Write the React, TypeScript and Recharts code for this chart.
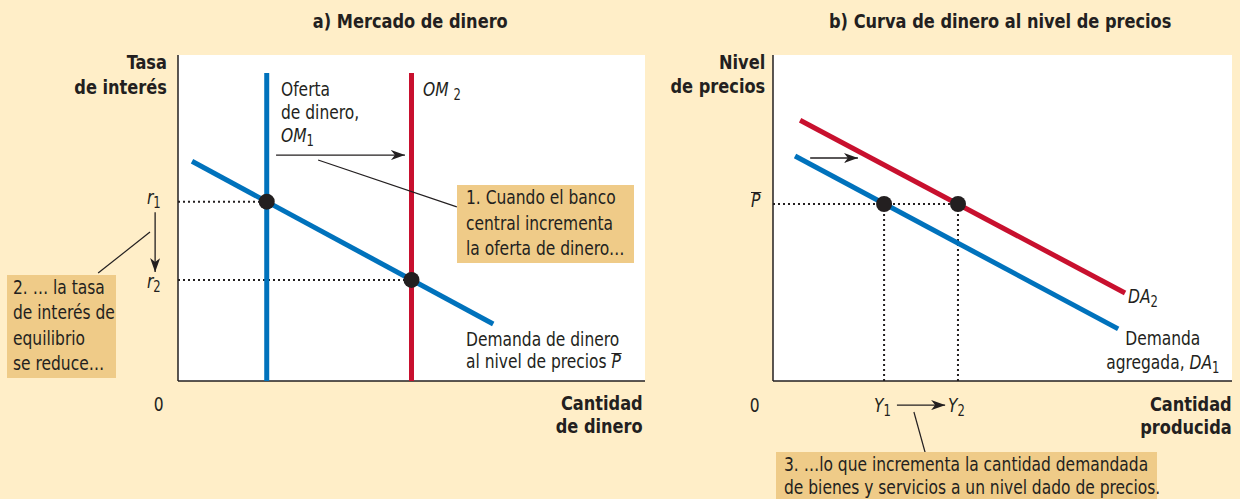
import React from "react";
import { LineChart, Line, XAxis, YAxis, CartesianGrid, ReferenceLine, ReferenceDot } from "recharts";

// panel a) money market: quantity of money (q) vs interest rate (r)
const moneyDemand = [
  { q: 0.3, r: 6.74 },
  { q: 6.75, r: 1.75 },
];
const moneySupply1 = [
  { q: 1.9, r: 0 },
  { q: 1.9, r: 9.45 },
];
const moneySupply2 = [
  { q: 5.0, r: 0 },
  { q: 5.0, r: 9.45 },
];
const rateR1 = 5.5;
const rateR2 = 3.1;
const supplyQ1 = 1.9;
const supplyQ2 = 5.0;

// panel b) aggregate demand: output (y) vs price level (p)
const aggDemand1 = [
  { y: 0.48, p: 6.9 },
  { y: 7.52, p: 1.6 },
];
const aggDemand2 = [
  { y: 0.59, p: 8.0 },
  { y: 7.67, p: 2.7 },
];
const priceBar = 5.43;
const outputY1 = 2.42;
const outputY2 = 4.03;

const BLUE = "#0072BC";
const RED = "#C8102E";
const INK = "#231F20";
const CREAM = "#FFEEC8";
const TAN = "#EFCB88";
const FONT = '"DejaVu Sans Condensed", "DejaVu Sans", sans-serif';

const arrowShape = (p: any) => (
  <line x1={p.x1} y1={p.y1} x2={p.x2} y2={p.y2} stroke={INK} strokeWidth={1.3} markerEnd="url(#ah)" />
);

const sub: React.CSSProperties = { fontSize: 15, verticalAlign: "-4px", fontStyle: "normal" };

type TxtProps = {
  left: number;
  top: number;
  width?: number;
  align?: "left" | "right" | "center";
  lh: number;
  bold?: boolean;
  children: React.ReactNode;
};

// condensed text block (the source uses a narrow face)
function Txt({ left, top, width, align = "left", lh, bold, children }: TxtProps) {
  return (
    <div
      style={{
        position: "absolute",
        left,
        top,
        width,
        textAlign: align,
        fontFamily: FONT,
        fontSize: 20,
        fontWeight: bold ? 700 : 400,
        lineHeight: `${lh}px`,
        color: INK,
        whiteSpace: "nowrap",
      }}
    >
      <div
        style={{
          display: "inline-block",
          transform: `scaleX(${bold ? 0.9 : 0.86})`,
          transformOrigin: align === "left" ? "left top" : align === "right" ? "right top" : "center top",
        }}
      >
        {children}
      </div>
    </div>
  );
}

function MoneyMarket() {
  return (
    <LineChart width={660} height={499} margin={{ top: 55, right: 15, bottom: 118, left: 178 }}>
      <CartesianGrid fill="#ffffff" horizontal={false} vertical={false} />
      <XAxis type="number" dataKey="q" domain={[0, 10]} hide />
      <YAxis type="number" domain={[0, 10]} hide />
      <ReferenceLine x={0} stroke={INK} strokeWidth={1.5} />
      <ReferenceLine y={0} stroke={INK} strokeWidth={1.5} />
      <ReferenceLine segment={[{ x: 0, y: rateR1 }, { x: supplyQ1, y: rateR1 }]} stroke={INK} strokeWidth={2} strokeDasharray="2 3" />
      <ReferenceLine segment={[{ x: 0, y: rateR2 }, { x: supplyQ2, y: rateR2 }]} stroke={INK} strokeWidth={2} strokeDasharray="2 3" />
      <Line data={moneySupply1} dataKey="r" stroke={BLUE} strokeWidth={5} dot={false} isAnimationActive={false} />
      <Line data={moneySupply2} dataKey="r" stroke={RED} strokeWidth={5} dot={false} isAnimationActive={false} />
      <Line data={moneyDemand} dataKey="r" stroke={BLUE} strokeWidth={5} dot={false} isAnimationActive={false} />
      <ReferenceDot x={supplyQ1} y={rateR1} r={8} fill={INK} stroke="none" />
      <ReferenceDot x={supplyQ2} y={rateR2} r={8} fill={INK} stroke="none" />
      <ReferenceLine segment={[{ x: 2.1, y: 6.93 }, { x: 4.86, y: 6.93 }]} shape={arrowShape} />
      <ReferenceLine segment={[{ x: 3.0, y: 6.78 }, { x: 5.97, y: 5.34 }]} stroke={INK} strokeWidth={1.2} />
      <ReferenceLine segment={[{ x: -0.49, y: 5.18 }, { x: -0.49, y: 3.34 }]} ifOverflow="visible" shape={arrowShape} />
      <ReferenceLine segment={[{ x: -1.71, y: 3.31 }, { x: -0.6, y: 4.57 }]} ifOverflow="visible" stroke={INK} strokeWidth={1.2} />
    </LineChart>
  );
}

function PriceLevel() {
  return (
    <LineChart width={592} height={499} margin={{ top: 55, right: 8, bottom: 118, left: 125 }}>
      <CartesianGrid fill="#ffffff" horizontal={false} vertical={false} />
      <XAxis type="number" dataKey="y" domain={[0, 10]} hide />
      <YAxis type="number" domain={[0, 10]} hide />
      <ReferenceLine x={0} stroke={INK} strokeWidth={1.5} />
      <ReferenceLine y={0} stroke={INK} strokeWidth={1.5} />
      <ReferenceLine segment={[{ x: 0, y: priceBar }, { x: outputY2, y: priceBar }]} stroke={INK} strokeWidth={2} strokeDasharray="2 3" />
      <ReferenceLine segment={[{ x: outputY1, y: 0 }, { x: outputY1, y: priceBar }]} stroke={INK} strokeWidth={2} strokeDasharray="2 3" />
      <ReferenceLine segment={[{ x: outputY2, y: 0 }, { x: outputY2, y: priceBar }]} stroke={INK} strokeWidth={2} strokeDasharray="2 3" />
      <Line data={aggDemand2} dataKey="p" stroke={RED} strokeWidth={5} dot={false} isAnimationActive={false} />
      <Line data={aggDemand1} dataKey="p" stroke={BLUE} strokeWidth={5} dot={false} isAnimationActive={false} />
      <ReferenceDot x={outputY1} y={priceBar} r={8} fill={INK} stroke="none" />
      <ReferenceDot x={outputY2} y={priceBar} r={8} fill={INK} stroke="none" />
      <ReferenceLine segment={[{ x: 0.81, y: 6.84 }, { x: 1.85, y: 6.84 }]} shape={arrowShape} />
      <ReferenceLine segment={[{ x: 2.7, y: -0.74 }, { x: 3.75, y: -0.74 }]} ifOverflow="visible" shape={arrowShape} />
      <ReferenceLine segment={[{ x: 3.07, y: -0.95 }, { x: 3.33, y: -2.27 }]} ifOverflow="visible" stroke={INK} strokeWidth={1.2} />
    </LineChart>
  );
}

export default function App() {
  const pbar = (
    <span style={{ display: "inline-block", borderTop: "1.5px solid " + INK, lineHeight: "15px", fontStyle: "italic", paddingRight: 1 }}>P</span>
  );
  const box = (left: number, top: number, width: number, height: number): React.CSSProperties => ({
    position: "absolute", left, top, width, height, background: TAN,
  });
  return (
    <div style={{ position: "absolute", left: 0, top: 0, width: 1240, height: 499, background: CREAM, overflow: "hidden" }}>
      <svg width={0} height={0} style={{ position: "absolute" }}>
        <defs>
          <marker id="ah" viewBox="0 0 14 10" refX={14} refY={5} markerWidth={14} markerHeight={10} orient="auto" markerUnits="userSpaceOnUse">
            <path d="M0,0 L14,5 L0,10 L4,5 z" fill={INK} />
          </marker>
        </defs>
      </svg>
      <div style={{ position: "absolute", left: 0, top: 0 }}>
        <MoneyMarket />
      </div>
      <div style={{ position: "absolute", left: 648, top: 0 }}>
        <PriceLevel />
      </div>

      {/* callout boxes */}
      <div style={box(457, 185, 177, 78)} />
      <div style={box(7, 275, 109, 103)} />
      <div style={box(776, 452, 381, 47)} />

      {/* titles */}
      <Txt bold left={210} width={400} align="center" top={9} lh={24}>a) Mercado de dinero</Txt>
      <Txt bold left={800} width={400} align="center" top={9} lh={24}>b) Curva de dinero al nivel de precios</Txt>

      {/* panel a text */}
      <Txt bold left={37} width={130} align="right" top={50} lh={25}>Tasa<br />de interés</Txt>
      <Txt left={140} width={38} align="center" top={392} lh={24}>0</Txt>
      <Txt bold left={443} width={200} align="right" top={392} lh={23}>Cantidad<br />de dinero</Txt>
      <Txt left={281} top={78} lh={23}>Oferta<br />de dinero,<br /><i>OM</i><span style={sub}>1</span></Txt>
      <Txt left={423} top={77} lh={24}><i>OM</i> <span style={sub}>2</span></Txt>
      <Txt left={147} top={185} lh={24}><i>r</i><span style={sub}>1</span></Txt>
      <Txt left={147} top={269} lh={24}><i>r</i><span style={sub}>2</span></Txt>
      <Txt left={466} top={185} lh={25.5}>1. Cuando el banco<br />central incrementa<br />la oferta de dinero…</Txt>
      <Txt left={13} top={275} lh={25.3}>2. … la tasa<br />de interés de<br />equilibrio<br />se reduce…</Txt>
      <Txt left={466} top={328} lh={22}>Demanda de dinero<br />al nivel de precios {pbar}</Txt>

      {/* panel b text */}
      <Txt bold left={615} width={150} align="right" top={50} lh={24}>Nivel<br />de precios</Txt>
      <Txt left={736} width={38} align="center" top={393} lh={24}>0</Txt>
      <Txt left={751} top={188} lh={24}>{pbar}</Txt>
      <Txt bold left={1032} width={200} align="right" top={393} lh={23}>Cantidad<br />producida</Txt>
      <Txt left={1128} top={284} lh={24}><i>DA</i><span style={sub}>2</span></Txt>
      <Txt left={1063} width={200} align="center" top={326} lh={24}>Demanda<br />agregada, <i>DA</i><span style={sub}>1</span></Txt>
      <Txt left={874} top={393} lh={24}><i>Y</i><span style={sub}>1</span></Txt>
      <Txt left={948} top={393} lh={24}><i>Y</i><span style={sub}>2</span></Txt>
      <Txt left={784} top={453} lh={22.5}>3. …lo que incrementa la cantidad demandada<br />de bienes y servicios a un nivel dado de precios.</Txt>
    </div>
  );
}
